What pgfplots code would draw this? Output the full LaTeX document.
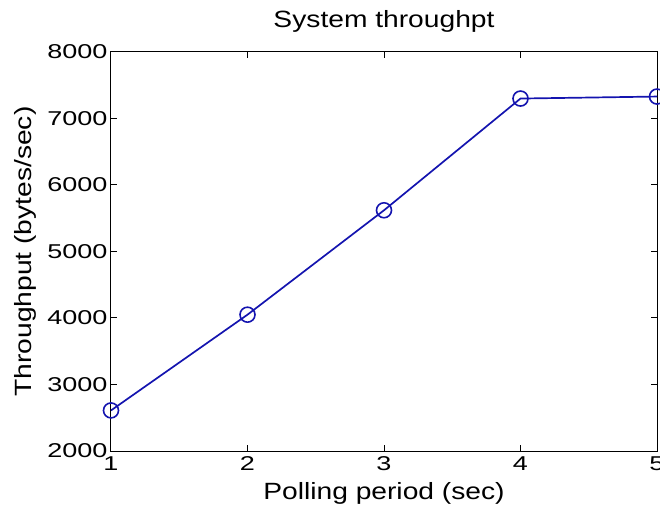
\documentclass[border=0pt]{standalone}
\usepackage{fontspec}
\setmainfont{Liberation Sans}[FakeStretch=1.2]
\newfontfamily\tickfont{Liberation Sans}[FakeStretch=1.35]
\usepackage{pgfplots}
\pgfplotsset{compat=1.18}
\definecolor{mblue}{RGB}{20,20,175}
\begin{document}
\begin{tikzpicture}
\path[use as bounding box] (-111pt,-57pt) rectangle (549pt,451pt);
\begin{axis}[
  scale only axis, width=546pt, height=399pt,
  xmin=1, xmax=5, ymin=2000, ymax=8000,
  xtick={1,2,3,4,5}, ytick={2000,3000,4000,5000,6000,7000,8000},
  /pgf/number format/assume math mode=true,
  /pgf/number format/1000 sep={},
  tick align=inside, major tick length=6pt,
  axis line style={line width=1pt}, every tick/.style={line width=1pt, black},
  tick label style={font=\tickfont\fontsize{20}{20}\selectfont},
  xticklabel style={yshift=-2pt},
  yticklabel style={xshift=0pt},
  title={System throughpt},
  title style={font=\fontsize{23.5}{24}\selectfont, at={(axis description cs:0.5,1.0451)}, anchor=base},
  xlabel={Polling period (sec)},
  xlabel style={font=\fontsize{23.5}{24}\selectfont, at={(axis description cs:0.5,-0.1228)}, anchor=base},
  ylabel={Throughput (bytes/sec)},
  ylabel style={font=\fontsize{23.5}{24}\selectfont, at={(axis description cs:-0.1465,0.5)}, anchor=base},
]
\addplot[color=mblue, line width=1.7pt, mark=o, mark size=7.5pt, mark options={line width=1.6pt}] coordinates {
  (1,2610) (2,4050) (3,5620) (4,7300) (5,7330)
};
\end{axis}
\end{tikzpicture}
\end{document}
